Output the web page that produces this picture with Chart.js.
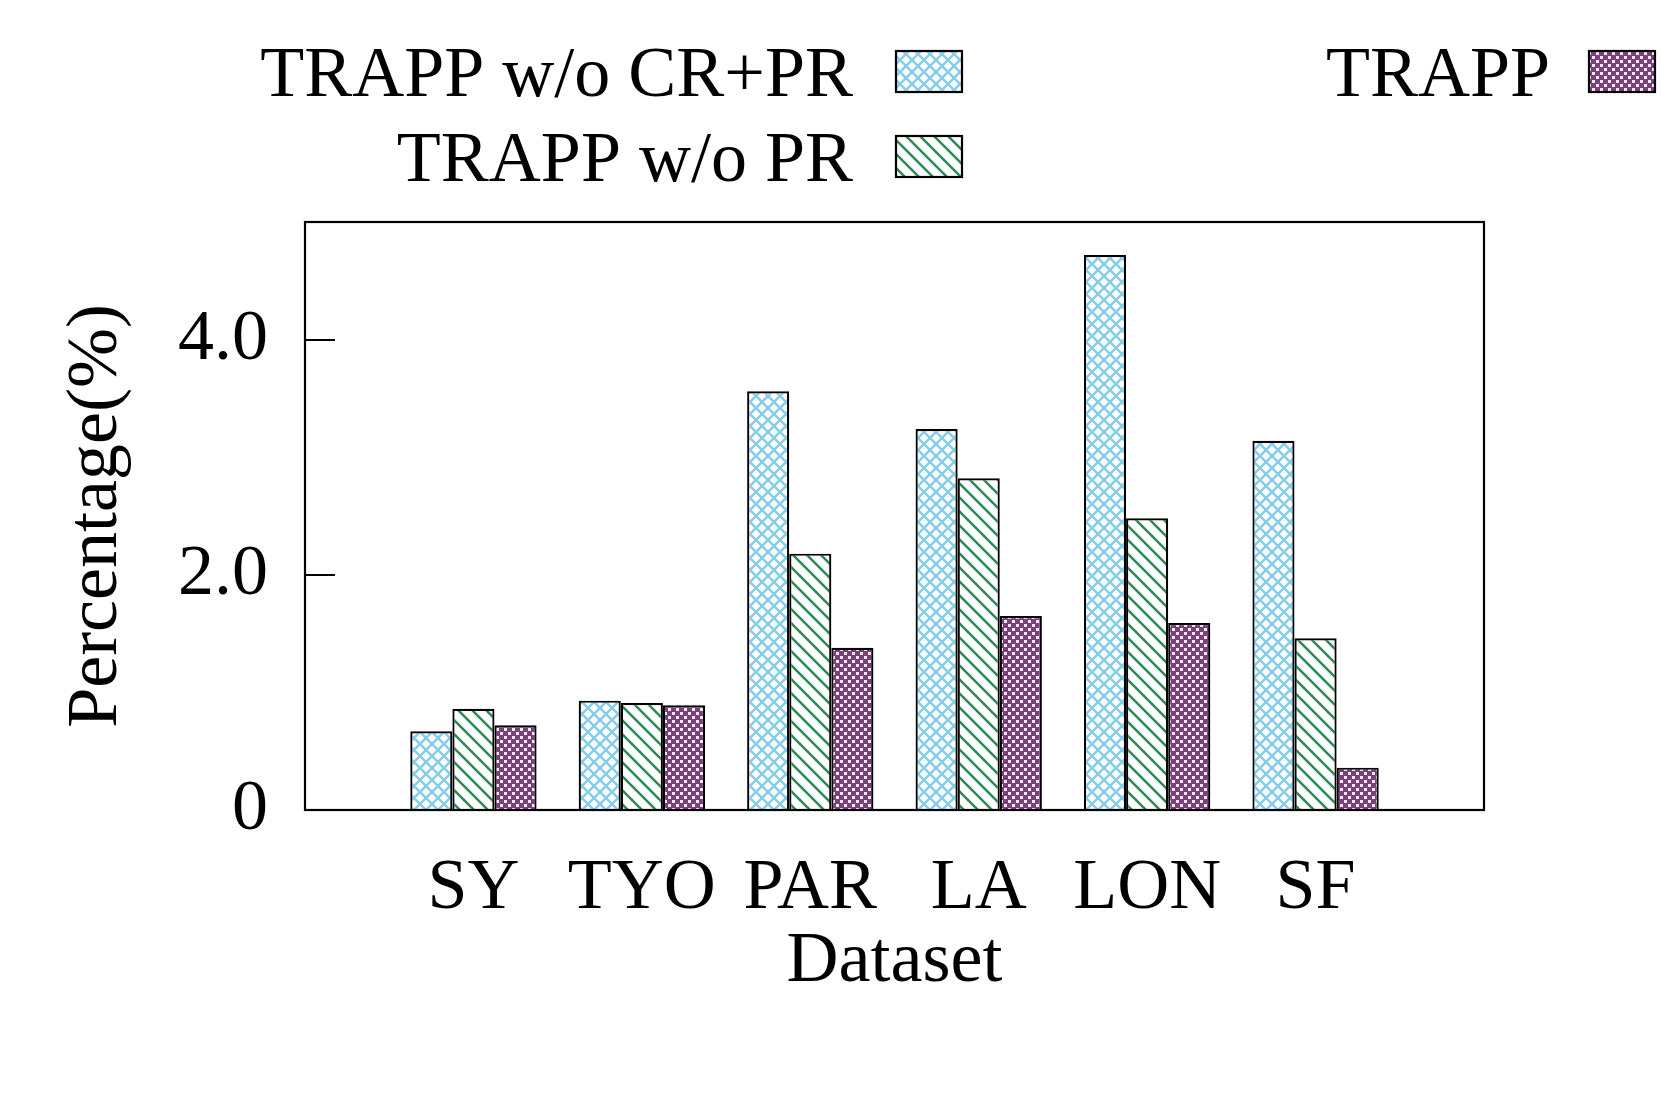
<!DOCTYPE html>
<html><head><meta charset="utf-8">
<script src="https://cdn.jsdelivr.net/npm/chart.js@4"></script>
<style>html,body{margin:0;padding:0;background:#fff;}</style>
</head><body>
<canvas id="c" width="1661" height="1107"></canvas>
<script>
// ---- data ----
const categories = ['SY', 'TYO', 'PAR', 'LA', 'LON', 'SF'];
const seriesNames = ['TRAPP w/o CR+PR', 'TRAPP w/o PR', 'TRAPP'];
const valuesNoCRPR = [0.67, 0.93, 3.56, 3.24, 4.72, 3.14];
const valuesNoPR   = [0.86, 0.91, 2.18, 2.82, 2.48, 1.46];
const valuesTRAPP  = [0.72, 0.89, 1.38, 1.65, 1.59, 0.36];
const yTickValues = [0, 2, 4];
const yTickLabels = ['0', '2.0', '4.0'];
const yMax = 5;

// ---- styles ----
const FONT = '"Liberation Serif", "Times New Roman", serif';
const FSIZE = 72;

function makePattern(kind) {
  const c = document.createElement('canvas');
  const x = c.getContext('2d');
  if (kind === 'cross') {
    const s = 12; c.width = s; c.height = s;
    x.fillStyle = '#fff'; x.fillRect(0, 0, s, s);
    x.strokeStyle = 'rgb(135,206,235)'; x.lineWidth = 2.6;
    x.beginPath();
    x.moveTo(-1, -1); x.lineTo(s + 1, s + 1);
    x.moveTo(-1, s + 1); x.lineTo(s + 1, -1);
    x.stroke();
  } else if (kind === 'diag') {
    const s = 14; c.width = s; c.height = s;
    x.fillStyle = '#fff'; x.fillRect(0, 0, s, s);
    x.strokeStyle = 'rgb(46,139,87)'; x.lineWidth = 2.5;
    x.beginPath();
    x.moveTo(-2, -2); x.lineTo(s + 2, s + 2);
    x.moveTo(-2 - s, -2); x.lineTo(2, s + 2);
    x.moveTo(s - 2, -2); x.lineTo(2 * s + 2, s + 2);
    x.stroke();
  } else {
    const s = 8; c.width = s; c.height = s;
    x.fillStyle = 'rgb(126,62,126)'; x.fillRect(0, 0, s, s);
    x.fillStyle = '#f6f0f6';
    x.fillRect(0, 0, 3, 3);
    x.fillRect(4, 4, 3, 3);
  }
  return x.createPattern(c, 'repeat');
}

const ctx = document.getElementById('c').getContext('2d');
const paddedLabels = [''].concat(categories, ['']);
const pad = arr => [null].concat(arr, [null]);

const legendLayout = [
  { textRight: 853, baseline: 96, box: [896, 51, 66, 41] },
  { textRight: 853, baseline: 181, box: [896, 136, 66, 41] },
  { textRight: 1550, baseline: 96, box: [1589, 51, 66, 41] }
];

const framePlugin = {
  id: 'frame',
  afterDatasetsDraw(chart) {
    const { ctx, chartArea: a, scales } = chart;
    ctx.save();
    ctx.strokeStyle = '#000';
    ctx.lineWidth = 2.2;
    ctx.strokeRect(a.left, a.top, a.right - a.left, a.bottom - a.top);
    ctx.beginPath();
    yTickValues.forEach(v => {
      const y = Math.round(scales.y.getPixelForValue(v));
      ctx.moveTo(a.left, y); ctx.lineTo(a.left + 30, y);
    });
    ctx.stroke();
    ctx.restore();
  },
  afterDraw(chart) {
    const { ctx } = chart;
    ctx.save();
    ctx.font = FSIZE + 'px ' + FONT;
    ctx.fillStyle = '#000';
    ctx.textAlign = 'right';
    ctx.textBaseline = 'alphabetic';
    chart.data.datasets.forEach((ds, i) => {
      const L = legendLayout[i];
      ctx.fillText(ds.label, L.textRight, L.baseline);
      ctx.fillStyle = ds.backgroundColor;
      ctx.fillRect(L.box[0], L.box[1], L.box[2], L.box[3]);
      ctx.strokeStyle = '#000';
      ctx.lineWidth = 2.2;
      ctx.strokeRect(L.box[0], L.box[1], L.box[2], L.box[3]);
      ctx.fillStyle = '#000';
    });
    ctx.restore();
  }
};

new Chart(ctx, {
  type: 'bar',
  data: {
    labels: paddedLabels,
    datasets: [
      { label: seriesNames[0], data: pad(valuesNoCRPR), backgroundColor: makePattern('cross') },
      { label: seriesNames[1], data: pad(valuesNoPR), backgroundColor: makePattern('diag') },
      { label: seriesNames[2], data: pad(valuesTRAPP), backgroundColor: makePattern('dots') }
    ]
  },
  options: {
    responsive: false,
    animation: false,
    devicePixelRatio: 1,
    layout: { padding: { top: 222, right: 177, left: 0, bottom: 0 } },
    datasets: { bar: { borderColor: '#000', borderWidth: 2.2, categoryPercentage: 0.75, barPercentage: 1.0 } },
    plugins: { legend: { display: false }, tooltip: { enabled: false } },
    scales: {
      x: {
        type: 'category',
        offset: false,
        grid: { display: false, drawTicks: false },
        border: { display: false },
        ticks: { font: { family: FONT, size: FSIZE }, color: '#000', padding: 36, maxRotation: 0, autoSkip: false },
        title: { display: true, text: 'Dataset', color: '#000', font: { family: FONT, size: FSIZE }, padding: { top: 0, bottom: 102 } },
        afterFit(s) { s.height = 297; }
      },
      y: {
        min: 0, max: yMax,
        grid: { display: false, drawTicks: false },
        border: { display: false },
        afterBuildTicks(s) { s.ticks = yTickValues.map(v => ({ value: v })); },
        ticks: {
          font: { family: FONT, size: FSIZE }, color: '#000', padding: 37,
          callback: v => yTickLabels[yTickValues.indexOf(v)]
        },
        title: { display: true, text: 'Percentage(%)', color: '#000', font: { family: FONT, size: FSIZE }, padding: { top: 54, bottom: 0 } },
        afterFit(s) { s.width = 305; }
      }
    }
  },
  plugins: [framePlugin]
});
</script>
</body></html>
